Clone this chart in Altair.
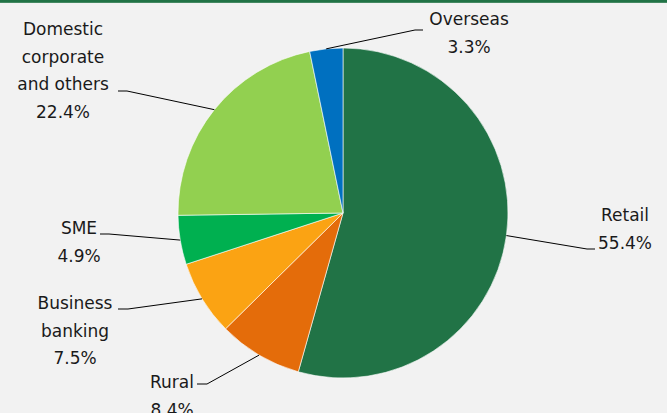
import altair as alt
import numpy as np
import pandas as pd

categories = ["Retail", "Rural", "Business banking", "SME", "Domestic corporate and others", "Overseas"]
label_text = ["Retail", "Rural", "Business\nbanking", "SME", "Domestic\ncorporate\nand others", "Overseas"]
values = [55.4, 8.4, 7.5, 4.9, 22.4, 3.3]
colors = ["#217346", "#e46c0a", "#fba313", "#00b050", "#92d050", "#0070c0"]

# layout (label placement / leader elbows)
label_x = [625, 172, 75, 79, 63, 469]
label_y = [216, 383, 304, 229, 30, 20]
elbow_x = [587, 207, 128, 109, 127, 415]
elbow_y = [249, 384, 309, 234, 91, 30]
end_x = [595, 197, 118, 100, 118, 423]

W, H = 667, 413
CX, CY, R = 343, 213, 165
LH = 27.5
FONT = "DejaVu Sans"

pie_df = pd.DataFrame({"category": categories, "value": values, "order": range(len(values))})

# mid-angles computed from data
v = np.array(values)
cum = np.cumsum(v) - v / 2
ang = cum / v.sum() * 2 * np.pi
edge_x = CX + R * np.sin(ang)
edge_y = CY - R * np.cos(ang)

line_rows = []
for i, c in enumerate(categories):
    line_rows.append({"category": c, "o": 0, "x": edge_x[i], "y": edge_y[i]})
    line_rows.append({"category": c, "o": 1, "x": elbow_x[i], "y": elbow_y[i]})
    line_rows.append({"category": c, "o": 2, "x": end_x[i], "y": elbow_y[i]})
line_df = pd.DataFrame(line_rows)

text_rows = []
for i, c in enumerate(categories):
    lines = label_text[i].split("\n") + [f"{values[i]:.1f}%"]
    for j, t in enumerate(lines):
        text_rows.append({"category": c, "x": label_x[i], "y": label_y[i] + j * LH, "t": t})
text_df = pd.DataFrame(text_rows)

xs = alt.Scale(domain=[0, W], range=[0, W])
ys = alt.Scale(domain=[0, H], range=[0, H])

pie = alt.Chart(pie_df).mark_arc(radius=R, stroke="#ffffff", strokeWidth=0.6).encode(
    theta=alt.Theta("value:Q", stack=True),
    order=alt.Order("order:Q"),
    color=alt.Color("category:N", scale=alt.Scale(domain=categories, range=colors), legend=None),
    x=alt.value(CX),
    y=alt.value(CY),
)

leaders = alt.Chart(line_df).mark_line(color="#000000", strokeWidth=1).encode(
    x=alt.X("x:Q", scale=xs, axis=None),
    y=alt.Y("y:Q", scale=ys, axis=None),
    detail="category:N",
    order="o:Q",
)

labels = alt.Chart(text_df).mark_text(
    font=FONT, fontSize=17, color="#1a1a1a", align="center", baseline="middle"
).encode(
    x=alt.X("x:Q", scale=xs, axis=None),
    y=alt.Y("y:Q", scale=ys, axis=None),
    text="t:N",
)

border = alt.Chart(pie_df).mark_rule(color="#217346", strokeWidth=2.5).encode(
    x=alt.value(0), x2=alt.value(W), y=alt.value(1)
)

chart = alt.layer(pie, leaders, labels, border).properties(
    width=W, height=H, padding=0, autosize=alt.AutoSizeParams(type="none"),
    background="#f2f2f2",
).configure_view(stroke=None)

chart.save("out.html", embed_options={"renderer": "svg", "actions": False})
